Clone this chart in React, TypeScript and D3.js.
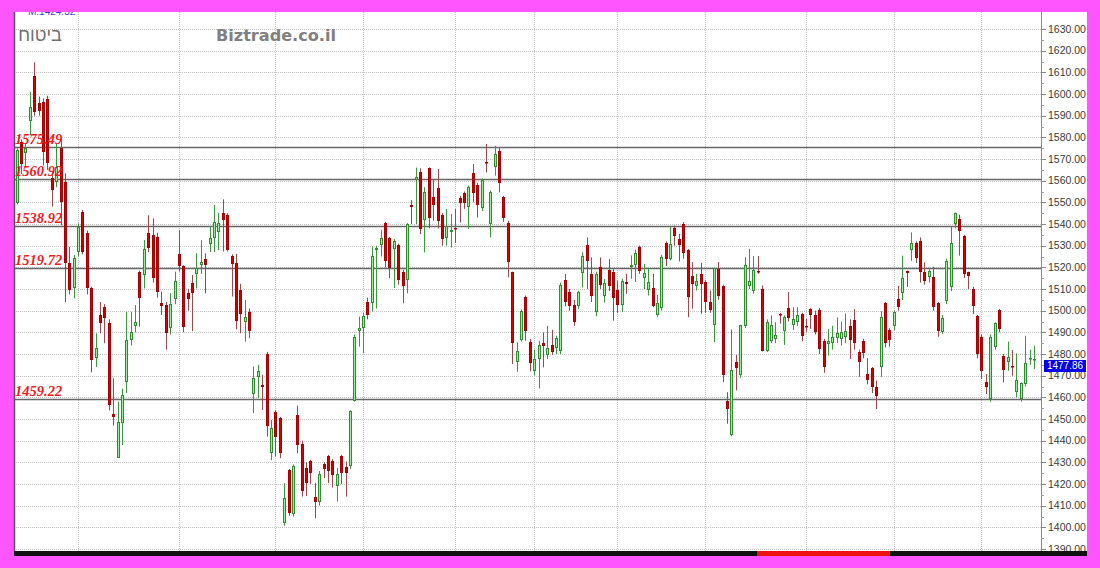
import React from 'react';
import * as d3 from 'd3';

const openVals = [
  1549.5,1577.7,1573,1587.5,1608.5,1595.7,1596.2,1597.7,1561,1559.5,
  1575.2,1559.5,1521.8,1510.3,1527.2,1545.7,1536,1510.3,1478,1498,
  1501.8,1494.2,1452.2,1432.2,1448,1467.2,1486.5,1493,1518,1516.5,
  1536,1535,1534,1503.4,1502.6,1492.2,1505.2,1526,1520.8,1508,
  1513,1517,1521,1524,1530.6,1533.7,1536.5,1545,1544.2,1525.4,
  1521.9,1509.6,1495,1499.6,1461.4,1469.6,1465.7,1480,1434.5,1453.1,
  1450.4,1401.9,1426.5,1406.2,1451.9,1438.5,1427.3,1430.4,1414.2,1411.9,
  1429.3,1432.7,1430.8,1419.1,1432.7,1428,1428.4,1458.5,1490.4,1492.2,
  1504.2,1503.4,1528,1530.4,1540.6,1533.4,1528.4,1530.4,1517.7,1514.2,
  1548.8,1560.5,1563.8,1541.8,1565.7,1552.3,1556.6,1544.1,1533.4,1536.1,
  1538,1552,1554.1,1547.7,1563.5,1558.1,1547.4,1568.4,1540,1566.1,
  1573.8,1552.3,1540.4,1517.7,1476.1,1486.6,1506.4,1485.4,1472,1477.7,
  1485,1479.7,1484.1,1482.7,1481.2,1514.3,1508.4,1502.6,1502.3,1517.2,
  1530.3,1516.9,1499.2,1520,1506.9,1518.9,1518,1509.6,1502.7,1513.2,
  1520.1,1520.9,1529.3,1515,1509.6,1510.6,1498.2,1501.2,1531.3,1523.9,
  1538.1,1533.2,1540.1,1527.8,1515.9,1511.6,1517,1513.2,1504.2,1493.2,
  1519.3,1511.2,1458.1,1442.4,1476.2,1470.1,1492.9,1511.6,1509.3,1518.1,
  1510.1,1481.6,1486.2,1486.7,1498.6,1490.4,1501.2,1493.2,1495,1498.3,
  1492.9,1500.6,1498.1,1500.1,1485.8,1484.6,1484.9,1487.4,1486.9,1487.7,
  1493,1495.7,1481,1486.1,1471,1473.4,1464.9,1473.8,1503.4,1491,
  1493,1505.4,1508,1518.1,1528,1531,1532.3,1517.7,1515.4,1515.7,
  1503.4,1490.3,1504.3,1510.7,1540,1542.3,1534.3,1517.7,1510,1497.7,
  1488,1467.2,1459.2,1483.4,1500.3,1479.2,1476.1,1474.6,1462.3,1459.2,
  1466.1,1477.7,1477.5
];
const highVals = [
  1575,1579,1577,1601,1614.6,1598.8,1598,1599.2,1564,1577.2,
  1579.5,1563.4,1529.5,1525.7,1540.3,1546.5,1537,1511,1489.5,1504,
  1503,1496,1468.8,1458,1464,1499.5,1499.5,1502.6,1518.5,1532.6,
  1544,1542.6,1536,1508.8,1504,1508,1518,1537.2,1521,1510,
  1516.5,1526.5,1532.6,1526.5,1538.8,1548.8,1545,1551.4,1545,1526,
  1526.2,1512.4,1505,1501,1474.2,1475,1470.4,1481,1449.6,1454,
  1451,1420.4,1427,1429,1456.2,1440,1430,1431.2,1420.4,1426,
  1430,1433.4,1431.5,1427.3,1433.5,1430.4,1454,1489,1497.3,1499,
  1506,1529.6,1530,1537.3,1541,1534,1533,1531,1518.8,1540.4,
  1551,1566,1565.7,1557,1566.1,1560.7,1565.4,1545,1546.9,1544.6,
  1546.9,1553,1555,1557.7,1567.7,1559,1561,1576.9,1555.4,1576.1,
  1575.4,1553,1541.5,1518,1485.4,1500.5,1507,1486.9,1482,1486.1,
  1490,1493,1491.2,1488.4,1513,1516.9,1510,1504.9,1509.2,1526.9,
  1533.8,1524.6,1518,1524.6,1514.6,1523.8,1519.2,1513.9,1514.7,1517,
  1525.5,1528.2,1530,1521.6,1519.6,1517,1507.3,1525.8,1532,1538.9,
  1539.3,1535.5,1540.9,1528.5,1522.4,1517,1522.1,1514,1509.3,1519.8,
  1522.4,1512,1462.4,1491.3,1479.6,1493.5,1524.7,1528.5,1525.2,1525.2,
  1511.6,1496,1497.8,1494.7,1498.9,1497.8,1508.6,1501.6,1501.6,1499,
  1496.2,1501.2,1500,1501.2,1487,1491.5,1493,1496.9,1495,1498.7,
  1496,1500.7,1482,1487,1478.1,1474,1467.7,1499.7,1504,1492,
  1500,1511.5,1525.4,1518.5,1536.1,1532,1533.8,1522.3,1519.8,1520.3,
  1504,1498,1524,1538.7,1545.3,1544.3,1535,1518,1511,1498,
  1489,1470.7,1489,1494.6,1500.8,1480,1485.7,1481.8,1480.3,1466.9,
  1488.4,1482,1483.8
];
const lowVals = [
  1549,1563,1566,1581,1590,1590,1567,1565,1548,1557,
  1539.5,1504,1507.5,1505.7,1525,1526,1507.5,1471.5,1474,1489.5,
  1485,1454,1447,1432,1438,1462,1484,1490,1492.6,1510.3,
  1527,1513,1506,1498,1482,1489,1503,1518,1490,1500,
  1490.6,1510.3,1517,1508,1527,1527,1528,1527.3,1527.3,1506.5,
  1491.4,1489.6,1485.7,1487.3,1452.7,1459.6,1454.2,1441.9,1431,1432.7,
  1431.9,1400.7,1405.3,1405,1434.2,1414.2,1414.5,1420,1404.2,1410,
  1422.7,1420.4,1418.4,1411.9,1420,1414.2,1427,1458,1483.4,1480.4,
  1496,1499.6,1501,1525,1520,1515,1510.4,1512,1503.4,1508,
  1540,1540,1535.4,1526.9,1538,1541.5,1538,1530,1530,1529.2,
  1531.2,1540.7,1547,1537.7,1550,1543,1546,1563.8,1533.8,1562.3,
  1554.6,1541,1515.4,1475.4,1471.8,1485.8,1486.1,1472,1470,1464.1,
  1473.8,1477.7,1479.5,1480,1480,1502,1500,1493,1500.7,1510.7,
  1510,1504,1497.4,1510,1503.8,1509,1495.4,1499,1499.3,1507.8,
  1514.7,1513.2,1517,1510,1507,1501.6,1497,1500,1520.6,1523.2,
  1530,1522.7,1524,1497,1500.9,1509.3,1498.6,1499,1499,1485.5,
  1505,1467,1447.8,1442,1463.2,1469,1492,1510,1507.8,1517,
  1481.2,1480.9,1485,1485,1494,1484.2,1495,1491,1493,1485.9,
  1490,1491.6,1489,1480,1471.3,1479.2,1482,1485,1484,1485,
  1477.7,1482,1469.5,1478,1466,1462,1454.6,1469.5,1483,1483.4,
  1491,1500,1504.9,1511,1523,1522,1513,1512,1513,1500,
  1488,1489.2,1503,1509,1538,1525.4,1515,1510,1498.4,1478,
  1468.4,1461.5,1458,1482,1490,1466.9,1472.3,1470,1460,1458,
  1465,1475,1473
];
const closeVals = [
  1574.2,1567.5,1575,1594.2,1591.8,1592.2,1573.4,1568,1555.7,1566.5,
  1550.3,1521.8,1509.5,1524.2,1538.8,1527.2,1510.3,1477.2,1482.6,1494.5,
  1496.5,1456.5,1451,1448.8,1461,1486.5,1490.3,1495,1505.7,1528.3,
  1529,1515.2,1508.8,1502.3,1489.5,1503,1513.8,1520.8,1492.6,1505.2,
  1508.3,1519.5,1522.5,1521,1533.4,1541,1540.6,1541.9,1528,1521.4,
  1495.4,1498.5,1497.3,1490.8,1469.1,1472.2,1465,1446.8,1446,1441.9,
  1434.5,1413.7,1406.8,1428.4,1438,1416.8,1420.4,1425,1411.9,1424.5,
  1426.8,1425.8,1424.2,1424.6,1425.3,1425.3,1453.5,1487.7,1491.9,1497.7,
  1498,1525.4,1529,1533.4,1522.7,1519.6,1532.2,1514.2,1511.4,1539.9,
  1547.7,1561.5,1537.7,1555,1542.6,1548.7,1541.2,1533,1538.9,1537.2,
  1537.5,1549.7,1549.5,1556.9,1554.1,1548.9,1560.4,1568,1555,1572.3,
  1558.9,1543,1522.3,1485,1481.2,1499.7,1490.4,1475.8,1477.7,1484.3,
  1483.8,1482.6,1480.7,1487.4,1512,1503.8,1502.3,1494.6,1508.4,1525.4,
  1523,1506.9,1516.9,1512,1513,1511.5,1505.7,1502.4,1513.6,1512.4,
  1520.9,1526.6,1518.5,1517.5,1513.2,1502.1,1503.5,1525,1523.9,1530.9,
  1534.4,1530.4,1526.6,1506.2,1512.4,1513.9,1512.1,1504.2,1500.1,1519.6,
  1506.7,1470.1,1454.7,1472.7,1473.5,1493.2,1520.9,1513.5,1518.9,1517.8,
  1481.6,1495,1493.2,1488.6,1497.8,1497.3,1496.7,1496.2,1498.1,1488.2,
  1492.4,1497.8,1490.1,1482.1,1473.9,1486.1,1488,1489.5,1490.3,1490.4,
  1486.4,1484.9,1476.1,1480.4,1468.1,1464.6,1460.4,1496.9,1484.9,1486.4,
  1499.5,1501.5,1515,1517.4,1531,1524.1,1517.7,1513.8,1518.4,1501.5,
  1490.4,1496.6,1523.1,1531,1544.9,1536.9,1516.9,1516.1,1502.3,1480,
  1472.3,1464.9,1488,1494.1,1491.5,1472.6,1478.7,1473.8,1468,1466.4,
  1475.7,1478,1477.86
];

const supportLevels = [1575.49, 1560.92, 1538.92, 1519.72, 1459.22];
const supportLabels = ['1575.49', '1560.92', '1538.92', '1519.72', '1459.22'];
const periodStarts = [14, 37, 59, 79, 100, 118, 137, 157, 180, 200, 220];
const yTickValues = d3.range(1390, 1631, 10);
const lastPrice = 1477.86;
const titleText = 'ביטוח';
const brandText = 'Biztrade.co.il';
const topNote = 'M:1424.32';

export default function App() {
  const W = 1100;
  const H = 568;
  const plotL = 14;
  const plotR = 1041;
  const plotT = 12;
  const plotB = 552;
  const n = openVals.length;

  const y = d3.scaleLinear().domain([1390, 1630]).range([549, 29]);
  const x = d3
    .scaleBand<number>()
    .domain(d3.range(n))
    .range([14.5, 14.5 + n * 4.385]);
  const cx = (i: number) => Math.round((x(i) as number) + x.bandwidth() / 2);

  const minorTicks = d3.range(1390, 1635, 5).filter((v) => v % 10 !== 0);
  const lastY = Math.round(y(lastPrice));

  return (
    <svg
      width={W}
      height={H}
      style={{ position: 'absolute', left: 0, top: 0, display: 'block' }}
    >
      <defs>
        <clipPath id="plotClip">
          <rect x={plotL} y={plotT} width={plotR - plotL} height={plotB - plotT} />
        </clipPath>
        <clipPath id="whiteClip">
          <rect x={plotL} y={plotT} width={1087 - plotL} height={plotB - plotT} />
        </clipPath>
      </defs>
      <rect x={0} y={0} width={W} height={H} fill="#ff55ff" />
      <rect x={plotL} y={plotT} width={1087 - plotL} height={plotB - plotT} fill="#ffffff" />

      {/* grid */}
      <g>
        {yTickValues.map((v) => (
          <line
            key={'hg' + v}
            x1={plotL}
            x2={plotR}
            y1={Math.round(y(v)) + 0.5}
            y2={Math.round(y(v)) + 0.5}
            stroke="#c4c4c4"
            strokeDasharray="1,1"
          />
        ))}
        {periodStarts.map((i) => (
          <line
            key={'vg' + i}
            x1={cx(i) + 0.5}
            x2={cx(i) + 0.5}
            y1={plotT}
            y2={plotB}
            stroke="#c4c4c4"
            strokeDasharray="1,1"
          />
        ))}
      </g>

      {/* support lines */}
      <g>
        {supportLevels.map((v) => (
          <line
            key={'sl' + v}
            x1={plotL}
            x2={plotR}
            y1={Math.round(y(v)) + 0.5}
            y2={Math.round(y(v)) + 0.5}
            stroke="#666666"
            strokeWidth={1.6}
          />
        ))}
      </g>

      {/* candles */}
      <g clipPath="url(#plotClip)">
        {openVals.map((o, i) => {
          const c = closeVals[i];
          const up = c >= o;
          const xc = cx(i);
          const yTop = Math.round(y(Math.max(o, c)));
          const yBot = Math.round(y(Math.min(o, c)));
          const h = Math.max(1, yBot - yTop);
          return (
            <g key={'c' + i}>
              <line
                x1={xc + 0.5}
                x2={xc + 0.5}
                y1={y(highVals[i])}
                y2={y(lowVals[i])}
                stroke={up ? '#3a9a3a' : '#a04848'}
                strokeWidth={1}
              />
              <rect
                x={xc - 0.5}
                y={yTop + 0.5}
                width={2}
                height={Math.max(0.5, h - 1)}
                fill={up ? '#98ee98' : '#d10000'}
                stroke={up ? '#2f8f2f' : '#a80000'}
                strokeWidth={1}
              />
            </g>
          );
        })}
      </g>

      {/* support labels */}
      <g>
        {supportLevels.map((v, k) => (
          <text
            key={'slt' + v}
            x={15}
            y={Math.round(y(v)) - 3}
            fill="#ee1c1c"
            fontFamily="'Liberation Serif', serif"
            fontStyle="italic"
            fontWeight="bold"
            fontSize={14.5}
          >
            {supportLabels[k]}
          </text>
        ))}
      </g>

      {/* left border */}
      <line x1={14.5} x2={14.5} y1={plotT} y2={plotB} stroke="#555555" strokeWidth={1.5} />

      {/* right axis */}
      <line x1={plotR + 0.5} x2={plotR + 0.5} y1={plotT} y2={plotB} stroke="#8a8a8a" />
      <g>
        {yTickValues.map((v) => (
          <g key={'yt' + v}>
            <line
              x1={plotR}
              x2={plotR + 5}
              y1={Math.round(y(v)) + 0.5}
              y2={Math.round(y(v)) + 0.5}
              stroke="#8a8a8a"
            />
            <text
              x={1048}
              y={y(v)}
              dy="0.35em"
              fill="#3a3a3a"
              fontFamily="'Liberation Sans', Arial, sans-serif"
              fontSize={10.5}
            >
              {v.toFixed(2)}
            </text>
          </g>
        ))}
        {minorTicks.map((v) => (
          <line
            key={'mt' + v}
            x1={plotR}
            x2={plotR + 3}
            y1={Math.round(y(v)) + 0.5}
            y2={Math.round(y(v)) + 0.5}
            stroke="#9a9a9a"
          />
        ))}
      </g>

      {/* last price marker */}
      <rect x={1044} y={lastY + 1} width={42} height={12} fill="#0000e6" />
      <text
        x={1065}
        y={lastY + 6.5}
        dy="0.35em"
        textAnchor="middle"
        fill="#ffffff"
        fontFamily="'Liberation Sans', Arial, sans-serif"
        fontSize={10}
      >
        {lastPrice.toFixed(2)}
      </text>

      {/* titles */}
      <g clipPath="url(#whiteClip)">
        <text
          x={28}
          y={15}
          fill="#3c3cdc"
          fontFamily="'Liberation Sans', Arial, sans-serif"
          fontSize={10}
        >
          {topNote}
        </text>
      </g>
      <text
        x={40}
        y={41}
        textAnchor="middle"
        fill="#707070"
        fontFamily="'Liberation Sans', Arial, sans-serif"
        fontSize={18}
      >
        {titleText}
      </text>
      <text
        x={216}
        y={41}
        fill="#808080"
        fontFamily="'DejaVu Sans', Verdana, sans-serif"
        fontWeight="bold"
        fontSize={16}
        textLength={120}
        lengthAdjust="spacingAndGlyphs"
      >
        {brandText}
      </text>

      {/* bottom bar */}
      <rect x={plotL} y={551} width={1087 - plotL} height={5} fill="#111111" />
      <rect x={757} y={551} width={133} height={5} fill="#ee1111" />
    </svg>
  );
}
